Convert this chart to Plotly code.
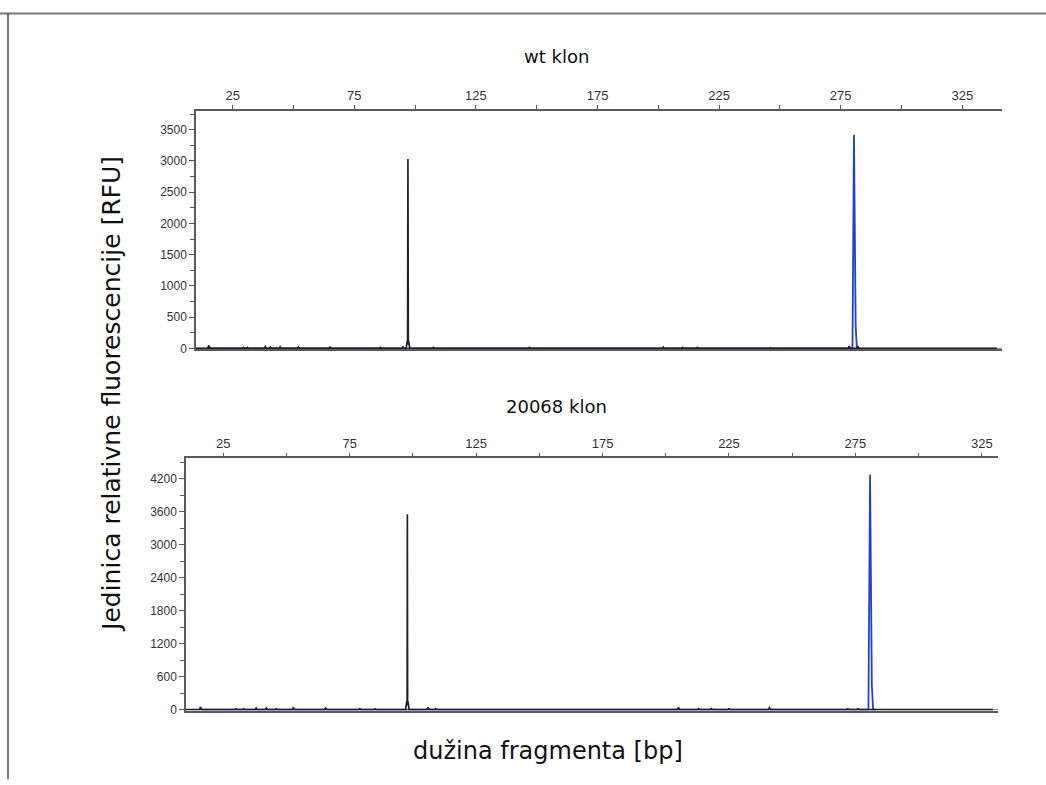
import plotly.graph_objects as go

# ---------------- data ----------------
# wt klon – main peaks (fragment length [bp], RFU)
wt_black_peak_bp  = [96.3, 96.75, 96.9, 97.05, 97.2, 97.35, 97.8]
wt_black_peak_rfu = [0, 120, 60, 3030, 60, 120, 0]
wt_blue_peak_bp   = [279.85, 280.45, 280.75, 280.95, 281.15, 281.65]
wt_blue_peak_rfu  = [0, 3420, 1250, 1340, 360, 0]
# small baseline bumps (black dye)
wt_noise_bp  = [15.3, 29.5, 31.0, 38.4, 40.5, 44.5, 52.0, 65.0, 85.7, 95.0, 107.5, 147.0, 151.0, 202.0, 210.0, 216.0, 246.0, 260.0, 278.5, 282.0, 318.0]
wt_noise_rfu = [40, 15, 15, 30, 20, 25, 20, 20, 15, 25, 15, 15, 10, 20, 15, 15, 10, 10, 35, 35, 10]

# 20068 klon – main peaks
kl_black_peak_bp  = [97.1, 97.55, 97.7, 97.8, 97.9, 98.05, 98.5]
kl_black_peak_rfu = [0, 150, 80, 3550, 80, 150, 0]
kl_blue_peak_bp   = [280.15, 280.8, 281.1, 281.3, 281.5, 282.0]
kl_blue_peak_rfu  = [0, 4272, 1700, 1805, 450, 0]
kl_noise_bp  = [16.0, 30.0, 33.0, 38.0, 42.0, 46.0, 65.5, 79.0, 85.0, 106.0, 109.0, 205.0, 213.0, 218.0, 225.0, 241.0, 272.0, 276.0]
kl_noise_rfu = [20, 15, 15, 30, 30, 15, 30, 20, 15, 40, 20, 40, 20, 20, 15, 35, 15, 15]
kl_blue_noise_bp  = [16.0, 52.7]
kl_blue_noise_rfu = [50, 45]
wt_blue_noise_bp  = [15.0]
wt_blue_noise_rfu = [30]

titles = ["wt klon", "20068 klon"]
x_tick_labels = [25, 75, 125, 175, 225, 275, 325]
wt_y_ticks = [0, 500, 1000, 1500, 2000, 2500, 3000, 3500]
kl_y_ticks = [0, 600, 1200, 1800, 2400, 3000, 3600, 4200]
wt_x_range = [9.9, 341.2]
kl_x_range = [10.25, 331.4]
wt_y_max = 3803
kl_y_max = 4566

# ---------------- helpers ----------------
def trace_with_noise(noise_bp, noise_rfu, peak_bp, peak_rfu, x0, x1, half=0.45):
    pts = [(x0, 0), (x1, 0)]
    for b, r in zip(noise_bp, noise_rfu):
        pts += [(b - half, 0), (b, r), (b + half, 0)]
    pts += list(zip(peak_bp, peak_rfu))
    pts.sort(key=lambda p: p[0])
    return [p[0] for p in pts], [p[1] for p in pts]

BLACK = "#222222"
BLUE = "#2040d0"
RED = "#b08a8a"
AXIS = "#5a5a5a"
TICKFONT = dict(family="Liberation Sans, Arial, sans-serif", size=12, color="#333333")

fig = go.Figure()

panels = [
    dict(xa="x", ya="y", noise=(wt_noise_bp, wt_noise_rfu), bpk=(wt_black_peak_bp, wt_black_peak_rfu),
         blpk=(wt_blue_peak_bp, wt_blue_peak_rfu), bln=(wt_blue_noise_bp, wt_blue_noise_rfu), xr=wt_x_range),
    dict(xa="x2", ya="y2", noise=(kl_noise_bp, kl_noise_rfu), bpk=(kl_black_peak_bp, kl_black_peak_rfu),
         blpk=(kl_blue_peak_bp, kl_blue_peak_rfu), bln=(kl_blue_noise_bp, kl_blue_noise_rfu), xr=kl_x_range),
]

for p in panels:
    fig.add_trace(go.Scatter(x=p["xr"], y=[0, 0], mode="lines", line=dict(color=RED, width=1.2),
                             xaxis=p["xa"], yaxis=p["ya"], hoverinfo="skip", showlegend=False))
    bx, by = trace_with_noise(p["bln"][0], p["bln"][1], p["blpk"][0], p["blpk"][1], p["blpk"][0][0] - 1, p["blpk"][0][-1] + 1)
    fig.add_trace(go.Scatter(x=bx, y=by, mode="lines", line=dict(color=BLUE, width=1.8),
                             xaxis=p["xa"], yaxis=p["ya"], showlegend=False))
    kx, ky = trace_with_noise(p["noise"][0], p["noise"][1], p["bpk"][0], p["bpk"][1], p["xr"][0], p["xr"][1] - 2)
    fig.add_trace(go.Scatter(x=kx, y=ky, mode="lines", line=dict(color=BLACK, width=1.7),
                             xaxis=p["xa"], yaxis=p["ya"], showlegend=False))

W, H = 1046, 785
def px(v): return v / W
def py(v): return 1 - v / H

xaxis_common = dict(side="top", showline=True, linecolor=AXIS, linewidth=1.5, mirror=True,
                    showgrid=False, zeroline=False, ticks="outside", ticklen=4, tickcolor=AXIS,
                    tickvals=x_tick_labels, tickfont=dict(family="Liberation Sans, Arial, sans-serif", size=13, color="#333333"),
                    minor=dict(ticks="outside", ticklen=4, tickcolor=AXIS, tick0=0, dtick=25, showgrid=False),
                    fixedrange=True)
yaxis_common = dict(showline=True, linecolor=AXIS, linewidth=1.5, showgrid=False, zeroline=False,
                    ticks="outside", ticklen=5, tickcolor=AXIS, tickfont=TICKFONT, fixedrange=True)

fig.update_layout(
    width=W, height=H,
    margin=dict(l=0, r=0, t=0, b=0),
    paper_bgcolor="white", plot_bgcolor="white",
    showlegend=False,
    xaxis=dict(xaxis_common, domain=[px(196), px(1001.7)], range=wt_x_range, anchor="y"),
    yaxis=dict(yaxis_common, domain=[py(352), py(111.7)], range=[-15, wt_y_max], anchor="x",
               tickvals=wt_y_ticks, minor=dict(ticks="outside", ticklen=4, tickcolor=AXIS, tick0=0, dtick=250)),
    xaxis2=dict(xaxis_common, domain=[px(186), px(998)], range=kl_x_range, anchor="y2"),
    yaxis2=dict(yaxis_common, domain=[py(716), py(462)], range=[-15, kl_y_max], anchor="x2",
                tickvals=kl_y_ticks, minor=dict(ticks="outside", ticklen=4, tickcolor=AXIS, tick0=0, dtick=300)),
    font=dict(family="DejaVu Sans, Verdana, sans-serif"),
)

TITLEFONT = dict(family="DejaVu Sans, Verdana, sans-serif", size=18, color="#111111")
fig.add_annotation(text=titles[0], x=px(556), y=py(57), xref="paper", yref="paper",
                   showarrow=False, font=TITLEFONT, xanchor="center", yanchor="middle")
fig.add_annotation(text=titles[1], x=px(556), y=py(410), xref="paper", yref="paper",
                   showarrow=False, font=TITLEFONT, xanchor="center", yanchor="middle")
fig.add_annotation(text="Jedinica relativne fluorescencije [RFU]", x=px(112), y=py(397), xref="paper", yref="paper",
                   showarrow=False, textangle=-90, xanchor="center", yanchor="middle",
                   font=dict(family="DejaVu Sans, Verdana, sans-serif", size=25, color="#111111"))
fig.add_annotation(text="dužina fragmenta [bp]", x=px(548), y=py(757), xref="paper", yref="paper",
                   showarrow=False, xanchor="center", yanchor="middle",
                   font=dict(family="DejaVu Sans, Verdana, sans-serif", size=24, color="#111111"))

fig.add_shape(type="line", xref="paper", yref="paper", x0=px(0), x1=px(W), y0=py(13.5), y1=py(13.5),
              line=dict(color="#7a7a7a", width=2))
fig.add_shape(type="line", xref="paper", yref="paper", x0=px(8), x1=px(8), y0=py(13.5), y1=0,
              line=dict(color="#222222", width=1.2))

fig.write_html("out.html")
